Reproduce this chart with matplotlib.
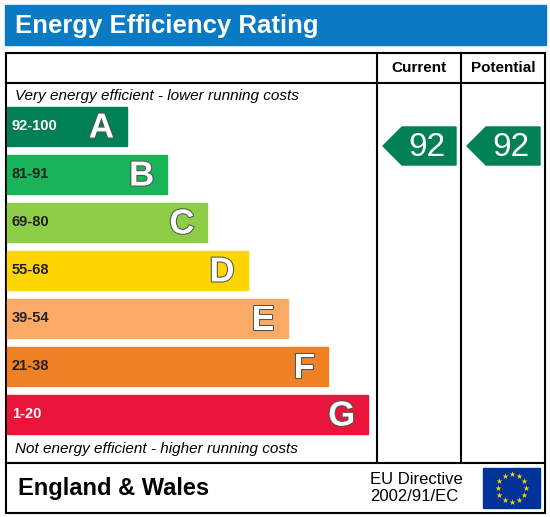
import matplotlib
matplotlib.use("Agg")
import matplotlib.pyplot as plt
import matplotlib.patheffects as pe
from matplotlib.patches import Rectangle, Polygon
import numpy as np

letters = ["A", "B", "C", "D", "E", "F", "G"]
ranges = ["92-100", "81-91", "69-80", "55-68", "39-54", "21-38", "1-20"]
colours = ["#008054", "#19b459", "#8dce46", "#ffd500", "#fcaa65", "#ef8023", "#e9153b"]
range_text = ["white", "#222222", "#222222", "#222222", "#222222", "#222222", "white"]
current = 92
potential = 92

fig = plt.figure(figsize=(5.5, 5.17), dpi=100)
ax = fig.add_axes([0, 0, 1, 1])
ax.set_xlim(0, 550)
ax.set_ylim(517, 0)
ax.axis("off")

# title bar
ax.add_patch(Rectangle((5, 5), 541, 40, color="#0a7ac4"))
ax.text(15, 26, "Energy Efficiency Rating", color="white", fontsize=18.5,
        fontweight="bold", va="center", family="Liberation Sans")

# frame
lw = 1.5
ax.add_patch(Rectangle((6, 53), 539, 460, fill=False, lw=lw, ec="black"))
ax.plot([6, 545], [83, 83], color="black", lw=lw)
ax.plot([6, 545], [463, 463], color="black", lw=lw)
ax.plot([377, 377], [53, 463], color="black", lw=lw)
ax.plot([461, 461], [53, 463], color="black", lw=lw)
ax.text(419, 68, "Current", ha="center", va="center", fontsize=11, fontweight="bold",
        family="Liberation Sans")
ax.text(503, 68, "Potential", ha="center", va="center", fontsize=11, fontweight="bold",
        family="Liberation Sans")

ax.text(15, 96, "Very energy efficient - lower running costs", fontsize=11,
        style="italic", va="center", family="Liberation Sans")
ax.text(15, 449, "Not energy efficient - higher running costs", fontsize=11,
        style="italic", va="center", family="Liberation Sans")

for i, (l, r, c, tc) in enumerate(zip(letters, ranges, colours, range_text)):
    top = 107 + 48 * i
    right = 127 + 40.2 * i
    ax.add_patch(Rectangle((7, top), right - 7, 38.5, color=c))
    ax.text(12, top + 19.5, r, fontsize=10.5, fontweight="bold", color=tc, va="center",
            family="Liberation Sans")
    ax.text(right - 13, top + 21, l, fontsize=25, fontweight="bold", color="white",
            ha="right", va="center", family="Liberation Sans",
            path_effects=[pe.withStroke(linewidth=1.5, foreground="#555555")])

def band_of(v):
    lows = [92, 81, 69, 55, 39, 21, 1]
    for i, lo in enumerate(lows):
        if v >= lo:
            return i
    return 6

for val, x0 in [(current, 383), (potential, 467)]:
    i = band_of(val)
    top = 127 + 48 * i
    pts = [(x0, top + 19), (x0 + 19, top), (x0 + 73, top), (x0 + 73, top + 38), (x0 + 19, top + 38)]
    ax.add_patch(Polygon(pts, closed=True, color=colours[i]))
    ax.text(x0 + 44, top + 21, str(val), fontsize=24, color="white", ha="center",
            va="center", family="Liberation Sans")

ax.text(18, 489, "England & Wales", fontsize=17, fontweight="bold", va="center",
        family="Liberation Sans")
ax.text(370, 488, "EU Directive\n2002/91/EC", fontsize=12, va="center",
        family="Liberation Sans", linespacing=1.1)

# EU flag
ax.add_patch(Rectangle((483, 468), 57, 40, color="#003399"))
ang = np.linspace(0, 2 * np.pi, 13)[:-1]
ax.scatter(511.5 + 14 * np.cos(ang), 488 + 14 * np.sin(ang), marker="*", s=20,
           color="#ffcc00", lw=0)

fig.savefig("out.png", dpi=100)
